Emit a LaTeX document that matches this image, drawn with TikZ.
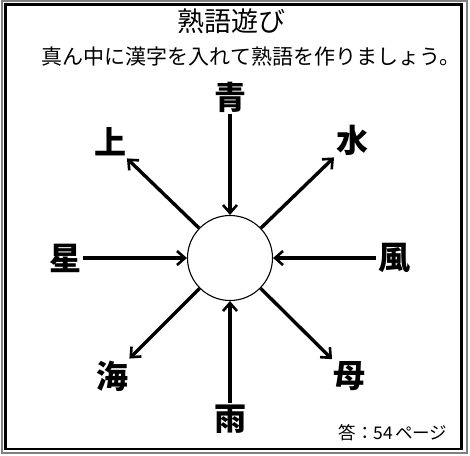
\documentclass[tikz,border=0pt]{standalone}
\usepackage{fontspec}
\newfontfamily\cjk{Noto Sans CJK JP}
\usetikzlibrary{arrows.meta}
\tikzset{
  lab/.style={font=\cjk\bfseries\fontsize{32}{32}\selectfont, inner sep=2pt},
  arr/.style={draw=black, line width=3.4pt, -{Straight Barb[length=8pt,width=14pt,line width=2.6pt]}},
  hub/.style={circle, draw, line width=1.1pt, minimum size=85pt, inner sep=0pt}
}
\begin{document}
\begin{tikzpicture}[x=1pt,y=-1pt]
\useasboundingbox (0,0) rectangle (470,455);
\draw[black!50, line width=2pt] (2,0.8) rectangle (466.5,453);
\draw[black, line width=2.6pt] (5.5,4.5) rectangle (461.5,448.8);
\node[font=\cjk\fontsize{27}{27}\selectfont] (title) at (231,21) {熟語遊び};
\node[font=\cjk\fontsize{21}{21}\selectfont] (sub) at (251,57) {真ん中に漢字を入れて熟語を作りましょう。};
\node[font=\cjk\fontsize{17.5}{17.5}\selectfont] (ans) at (393,433) {答：54\hspace{2pt}ページ};
\node[hub] (c) at (230,258) {};
\node[lab] (ao) at (230,97) {青};
\node[lab] (ue) at (110,142) {上};
\node[lab] (mizu) at (352,140) {水};
\node[lab] (hoshi) at (65,258) {星};
\node[lab] (kaze) at (394,258) {風};
\node[lab] (umi) at (112,376) {海};
\node[lab] (haha) at (349,376) {母};
\node[lab] (ame) at (230,419) {雨};
\draw[arr] (ao) -- (c);
\draw[arr] (hoshi) -- (c);
\draw[arr] (kaze) -- (c);
\draw[arr] (ame) -- (c);
\draw[arr] (c) -- (ue);
\draw[arr] (c) -- (mizu);
\draw[arr] (c) -- (umi);
\draw[arr] (c) -- (haha);
\end{tikzpicture}
\end{document}
